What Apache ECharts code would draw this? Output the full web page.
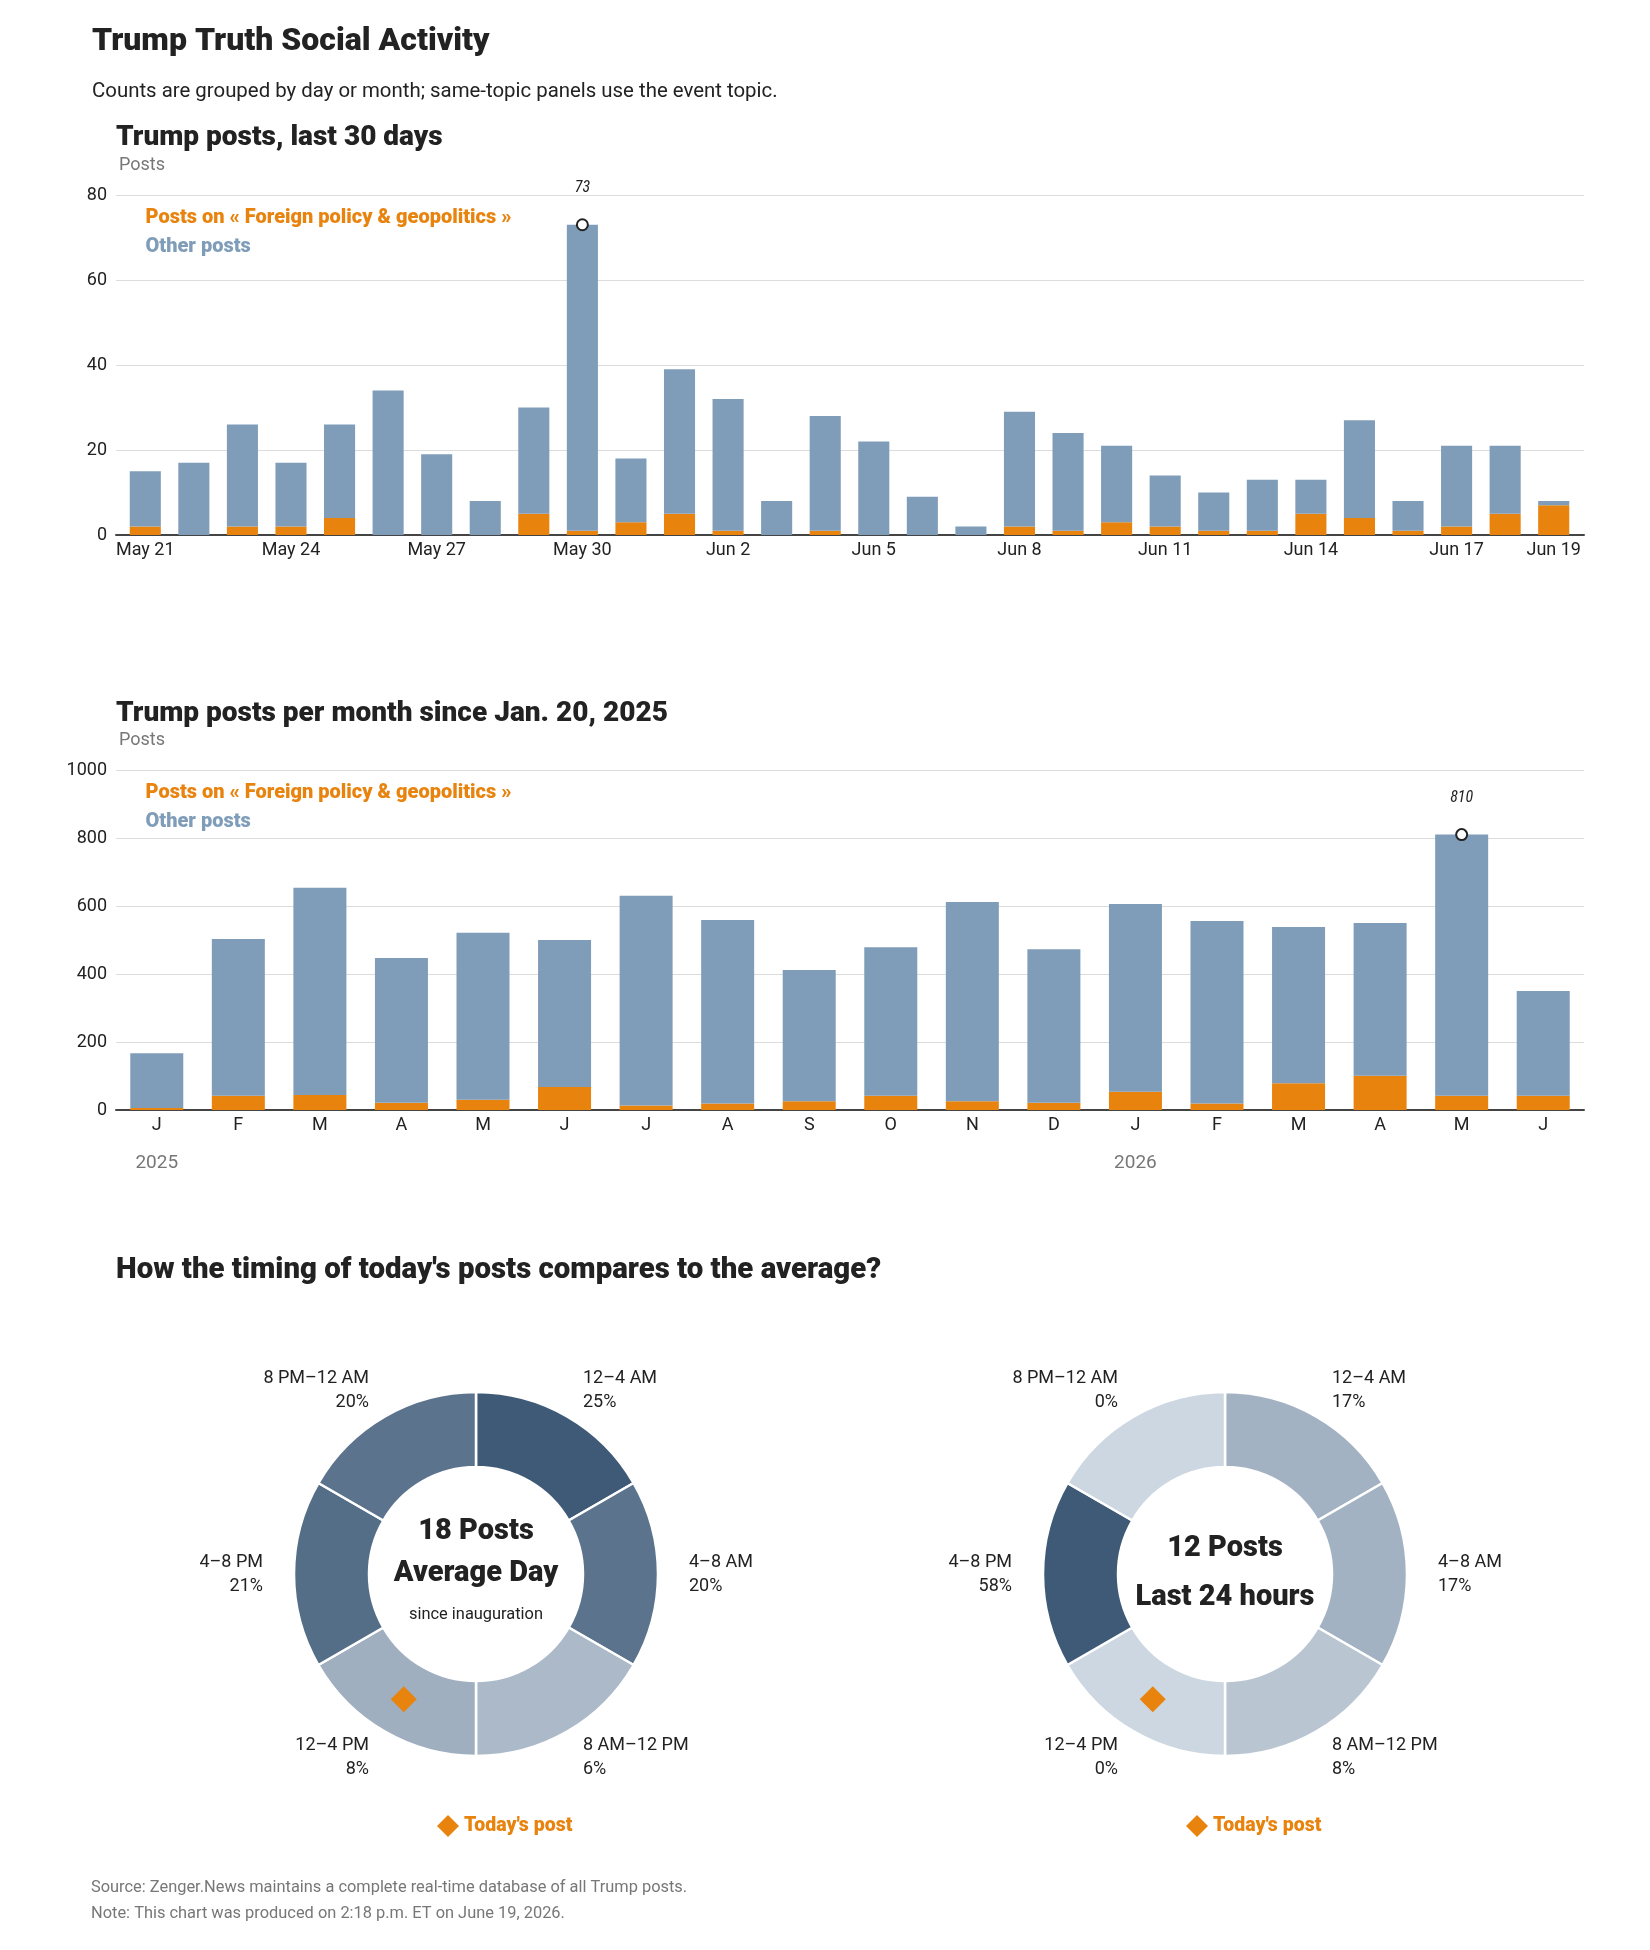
<!DOCTYPE html>
<html>
<head>
<meta charset="utf-8">
<title>Trump Truth Social Activity</title>
<script src="https://cdn.jsdelivr.net/npm/echarts@6/dist/echarts.min.js"></script>
<style>
  html, body { margin: 0; padding: 0; background: #fff; }
  #chart { width: 1650px; height: 1950px; }
</style>
</head>
<body>
<div id="chart"></div>
<script>
// ---- data ----
const dayLabels = ['May 21', 'May 22', 'May 23', 'May 24', 'May 25', 'May 26', 'May 27', 'May 28', 'May 29', 'May 30',
    'May 31', 'Jun 1', 'Jun 2', 'Jun 3', 'Jun 4', 'Jun 5', 'Jun 6', 'Jun 7', 'Jun 8', 'Jun 9',
    'Jun 10', 'Jun 11', 'Jun 12', 'Jun 13', 'Jun 14', 'Jun 15', 'Jun 16', 'Jun 17', 'Jun 18', 'Jun 19'];
const dayForeign = [2, 0, 2, 2, 4, 0, 0, 0, 5, 1, 3, 5, 1, 0, 1, 0, 0, 0, 2, 1, 3, 2, 1, 1, 5, 4, 1, 2, 5, 7];
const dayOther = [13, 17, 24, 15, 22, 34, 19, 8, 25, 72, 15, 34, 31, 8, 27, 22, 9, 2, 27, 23, 18, 12, 9, 12, 8, 23, 7, 19, 16, 1];

const monthLabels = ['Jan 2025', 'Feb 2025', 'Mar 2025', 'Apr 2025', 'May 2025', 'Jun 2025', 'Jul 2025', 'Aug 2025', 'Sep 2025',
    'Oct 2025', 'Nov 2025', 'Dec 2025', 'Jan 2026', 'Feb 2026', 'Mar 2026', 'Apr 2026', 'May 2026', 'Jun 2026'];
const monthForeign = [6, 42, 44, 21, 30, 68, 13, 19, 26, 42, 26, 21, 54, 19, 79, 101, 42, 42];
const monthOther = [161, 461, 610, 426, 491, 432, 617, 540, 386, 437, 586, 452, 552, 537, 459, 449, 768, 308];

const slotNames = ['12–4 AM', '4–8 AM', '8 AM–12 PM', '12–4 PM', '4–8 PM', '8 PM–12 AM'];
const slotHours = [4, 4, 4, 4, 4, 4];
const avgPct = [25, 20, 6, 8, 21, 20];
const lastPct = [17, 17, 8, 0, 58, 0];
const todaySlot = 3;   // 2:18 p.m. falls in 12–4 PM

const FP_NAME = 'Posts on « Foreign policy & geopolitics »';
const OTHER_NAME = 'Other posts';
const TODAY_NAME = "Today's post";

// ---- styles ----
const ORANGE = '#E8830E';
const BLUE = '#7F9DB9';
const LIGHT = '#CDD7E1';
const DARK = '#3E5A77';
const FONT = 'Roboto, "Noto Sans", sans-serif';
const INK = '#222';
const GREY = '#777';
const DONUT_Y = 1574;
const DONUT_R = [107, 182];

const dayTotal = dayForeign.map((v, i) => v + dayOther[i]);
const monthTotal = monthForeign.map((v, i) => v + monthOther[i]);
const peakDay = dayTotal.indexOf(Math.max(...dayTotal));
const peakMonth = monthTotal.indexOf(Math.max(...monthTotal));

function shade(pct, max) {
    return echarts.color.lerp(pct / max, [LIGHT, DARK]);
}

function txt(x, y, text, size, weight, color, align) {
    return {
        type: 'text', x: x, y: y, silent: true,
        style: {
            text: text, fill: color, fontFamily: FONT, fontSize: size, fontWeight: weight,
            align: align || 'left', verticalAlign: 'middle'
        }
    };
}

const valueAxisStyle = {
    axisLine: { show: false },
    axisTick: { show: false },
    axisLabel: { color: INK, fontSize: 18, fontFamily: FONT, margin: 9, padding: [4, 0, 0, 0], formatter: v => String(v) },
    splitLine: { lineStyle: { color: '#dcdcdc', width: 1 } },
    nameLocation: 'end',
    nameGap: 29.5,
    nameTextStyle: { color: GREY, fontSize: 18, fontFamily: FONT, align: 'left', verticalAlign: 'middle', padding: [0, 0, 0, 3] }
};

const baseLine = { lineStyle: { color: '#444', width: 2 } };

function barLegend(top) {
    return {
        data: [
            { name: FP_NAME, textStyle: { color: ORANGE } },
            { name: OTHER_NAME, textStyle: { color: BLUE } }
        ],
        orient: 'vertical', left: 140.5, top: top, padding: 0,
        icon: 'none', itemWidth: 0, itemHeight: 18, itemGap: 9,
        selectedMode: false,
        textStyle: { fontFamily: FONT, fontSize: 20, fontWeight: 900, lineHeight: 18 }
    };
}

function todayLegend(left) {
    return {
        data: [TODAY_NAME], left: left, top: 1815, padding: 0,
        icon: 'diamond', itemWidth: 22, itemHeight: 22, selectedMode: false,
        itemStyle: { opacity: 1 },
        textStyle: { color: ORANGE, fontFamily: FONT, fontSize: 19.5, fontWeight: 900 }
    };
}

function peakSeries(xi, yi, idx, val) {
    return {
        type: 'scatter', xAxisIndex: xi, yAxisIndex: yi, z: 5, silent: true,
        data: [[idx, val]],
        symbol: 'circle', symbolSize: 11,
        itemStyle: { color: '#fff', borderColor: INK, borderWidth: 2, opacity: 1 },
        label: {
            show: true, position: 'top', distance: 22,
            formatter: String(val),
            color: INK, fontSize: 16, fontStyle: 'italic',
            fontFamily: '"Liberation Sans Narrow", "Roboto Condensed", Roboto, sans-serif'
        }
    };
}

function donut(cx, pct) {
    const max = Math.max(...pct);
    return {
        type: 'pie', center: [cx, DONUT_Y], radius: DONUT_R,
        startAngle: 90, clockwise: true, avoidLabelOverlap: false, silent: true,
        data: slotNames.map((n, i) => ({
            name: n, value: slotHours[i],
            itemStyle: { color: shade(pct[i], max) }
        })),
        itemStyle: { borderColor: '#fff', borderWidth: 2.5 },
        label: {
            show: true, position: 'outside', distanceToLabelLine: 1,
            formatter: p => p.name + '\n' + pct[p.dataIndex] + '%',
            color: INK, fontFamily: FONT, fontSize: 18, lineHeight: 24, padding: [5, 0, 0, 0]
        },
        labelLine: { show: false, length: 30, length2: 0 }
    };
}

function todayMarker(pi) {
    return {
        type: 'scatter', name: TODAY_NAME, coordinateSystem: 'polar', polarIndex: pi,
        silent: true, z: 5,
        data: [[(DONUT_R[0] + DONUT_R[1]) / 2, todaySlot * 4 + 2]],
        symbol: 'diamond', symbolSize: 26,
        itemStyle: { color: ORANGE, opacity: 1 }
    };
}

const chart = echarts.init(document.getElementById('chart'));

const option = {
    animation: false,
    backgroundColor: '#fff',
    textStyle: { fontFamily: FONT },
    grid: [
        { left: 116, right: 66, top: 195, height: 340 },   // frame for daily chart
        { left: 121, right: 72, top: 195, height: 340 },   // daily bars
        { left: 116, right: 66, top: 770, height: 340 }    // monthly chart
    ],
    xAxis: [
        {
            gridIndex: 0, type: 'category', data: dayLabels,
            axisLine: baseLine, axisTick: { show: false }, axisLabel: { show: false }
        },
        {
            gridIndex: 1, type: 'category', data: dayLabels,
            axisLine: { show: false }, axisTick: { show: false },
            axisLabel: {
                interval: (i) => i % 3 === 0 || i === dayLabels.length - 1,
                color: INK, fontSize: 18, fontFamily: FONT, margin: 5, lineHeight: 20
            }
        },
        {
            gridIndex: 2, type: 'category', data: monthLabels,
            axisLine: baseLine, axisTick: { show: false },
            axisLabel: {
                interval: 0, color: INK, fontSize: 18, fontFamily: FONT, margin: 5, lineHeight: 20,
                formatter: (v, i) => {
                    const m = v.charAt(0);
                    return (i === 0 || v.indexOf('Jan') === 0) ? m + '\n{yr|' + v.slice(-4) + '}' : m;
                },
                rich: { yr: { color: GREY, fontSize: 19, fontFamily: FONT, lineHeight: 57 } }
            }
        }
    ],
    yAxis: [
        Object.assign({ gridIndex: 0, type: 'value', min: 0, max: 80, interval: 20, name: 'Posts' }, valueAxisStyle),
        { gridIndex: 1, type: 'value', min: 0, max: 80, interval: 20, show: false },
        Object.assign({ gridIndex: 2, type: 'value', min: 0, max: 1000, interval: 200, name: 'Posts' }, valueAxisStyle)
    ],
    polar: [
        { center: [476, DONUT_Y], radius: DONUT_R[1] },
        { center: [1225, DONUT_Y], radius: DONUT_R[1] }
    ],
    angleAxis: [
        { polarIndex: 0, type: 'value', min: 0, max: 24, startAngle: 90, clockwise: true, show: false },
        { polarIndex: 1, type: 'value', min: 0, max: 24, startAngle: 90, clockwise: true, show: false }
    ],
    radiusAxis: [
        { polarIndex: 0, type: 'value', min: 0, max: DONUT_R[1], show: false },
        { polarIndex: 1, type: 'value', min: 0, max: DONUT_R[1], show: false }
    ],
    legend: [barLegend(207.5), barLegend(782.5), todayLegend(437), todayLegend(1186)],
    series: [
        { name: FP_NAME, type: 'bar', xAxisIndex: 1, yAxisIndex: 1, stack: 'day', barWidth: '64%', data: dayForeign, itemStyle: { color: ORANGE }, silent: true },
        { name: OTHER_NAME, type: 'bar', xAxisIndex: 1, yAxisIndex: 1, stack: 'day', barWidth: '64%', data: dayOther, itemStyle: { color: BLUE }, silent: true },
        peakSeries(1, 1, peakDay, dayTotal[peakDay]),
        { name: FP_NAME, type: 'bar', xAxisIndex: 2, yAxisIndex: 2, stack: 'month', barWidth: '65%', data: monthForeign, itemStyle: { color: ORANGE }, silent: true },
        { name: OTHER_NAME, type: 'bar', xAxisIndex: 2, yAxisIndex: 2, stack: 'month', barWidth: '65%', data: monthOther, itemStyle: { color: BLUE }, silent: true },
        peakSeries(2, 2, peakMonth, monthTotal[peakMonth]),
        donut(476, avgPct),
        donut(1225, lastPct),
        todayMarker(0),
        todayMarker(1)
    ],
    graphic: [
        txt(92, 42, 'Trump Truth Social Activity', 32, 900, INK),
        txt(92, 92, 'Counts are grouped by day or month; same-topic panels use the event topic.', 20.4, 'normal', INK),
        txt(116, 138, 'Trump posts, last 30 days', 28, 900, INK),
        txt(116, 714, 'Trump posts per month since Jan. 20, 2025', 28, 900, INK),
        txt(116, 1271, "How the timing of today's posts compares to the average?", 29.4, 900, INK),
        txt(476, 1532, '18 Posts', 29, 900, INK, 'center'),
        txt(476, 1573.5, 'Average Day', 29, 900, INK, 'center'),
        txt(476, 1614.5, 'since inauguration', 16.4, 'normal', INK, 'center'),
        txt(1225, 1549, '12 Posts', 29, 900, INK, 'center'),
        txt(1225, 1598, 'Last 24 hours', 29, 900, INK, 'center'),
        txt(91, 1888, 'Source: Zenger.News maintains a complete real-time database of all Trump posts.', 16.4, 'normal', GREY),
        txt(91, 1914, 'Note: This chart was produced on 2:18 p.m. ET on June 19, 2026.', 16.4, 'normal', GREY)
    ]
};

chart.setOption(option);

window.addEventListener('resize', () => chart.resize());
</script>
</body>
</html>
